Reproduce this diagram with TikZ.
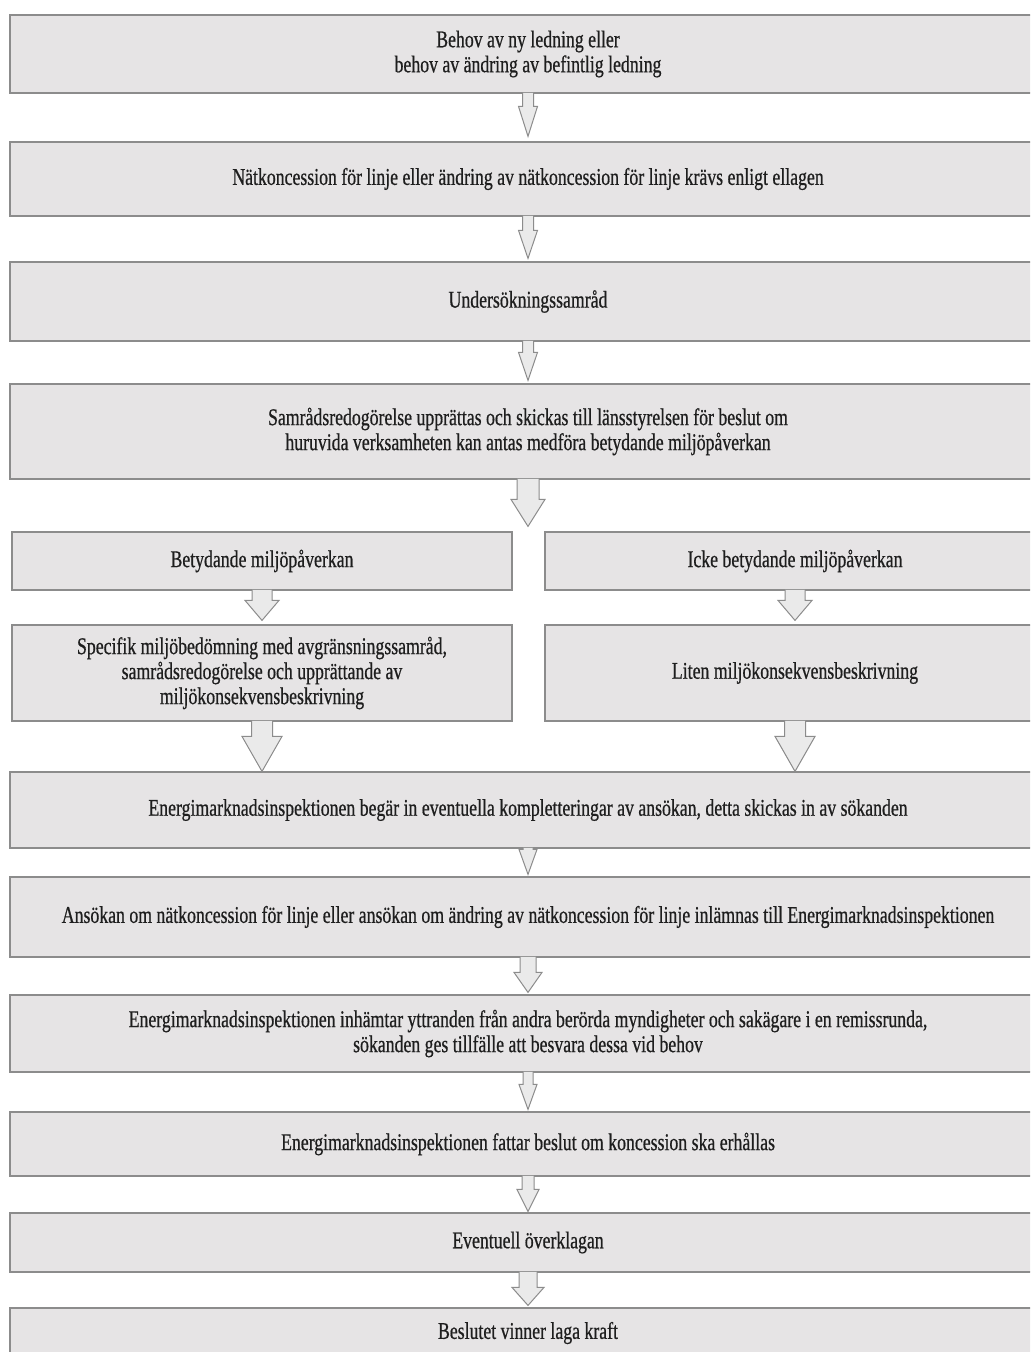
\documentclass[tikz,border=0pt]{standalone}
\usepackage{fontspec}
\setmainfont{Liberation Serif}[FakeStretch=0.74, FakeBold=0.6]
\usepackage{tikz}
\usetikzlibrary{calc}
\definecolor{fc-fill}{HTML}{E6E4E5}
\definecolor{fc-line}{HTML}{8C8C8C}
\definecolor{fc-arrow}{HTML}{EAEAEA}
\definecolor{fc-text}{HTML}{1E1E1E}
\newcommand{\flowfont}{\fontsize{12pt}{12.5pt}\selectfont}
% block arrow from the south side of #2 down to the north side of #3
% #4 half shaft width, #5 half head width, #6 head length, #1 gap above #3
\newcommand{\flowarrow}[6][1pt]{%
  \path[fc-arr] let \p1=(#2.south), \p2=(#3.north) in
    (\x1-#4,\y1+0.4pt) -- (\x1-#4,\y2+#1+#6) -- (\x1-#5,\y2+#1+#6)
    -- (\x1,\y2+#1) -- (\x1+#5,\y2+#1+#6) -- (\x1+#4,\y2+#1+#6)
    -- (\x1+#4,\y1+0.4pt);
}
\tikzset{
  stepbox/.style={draw=fc-line, fill=fc-fill, line width=0.6pt, align=center,
    inner sep=0pt, font=\flowfont, text=fc-text},
  fullbox/.style={stepbox, minimum width=518pt},
  halfbox/.style={stepbox, minimum width=250pt},
  fc-arr/.style={draw=fc-line, fill=fc-arrow, line width=0.5pt, line join=miter},
}
\begin{document}
\begin{tikzpicture}[x=0.5pt, y=-0.5pt]
    \clip (0,0) rectangle (1030,1352);
    \fill[white] (0,0) rectangle (1030,1352);

    % Main column
    \node[fullbox, minimum height=39pt] (need) at (528,54)
      {Behov av ny ledning eller\\behov av ändring av befintlig ledning};
    \node[fullbox, minimum height=37pt] (req) at (528,179)
      {Nätkoncession för linje eller ändring av nätkoncession för linje krävs enligt ellagen};
    \node[fullbox, minimum height=39.5pt] (consult) at (528,301.5)
      {Undersökningssamråd};
    \node[fullbox, minimum height=47.5pt] (report) at (528,431.5)
      {Samrådsredogörelse upprättas och skickas till länsstyrelsen för beslut om\\huruvida verksamheten kan antas medföra betydande miljöpåverkan};

    % Two branches
    \node[halfbox, minimum height=29pt] (sig) at (262,561)
      {Betydande miljöpåverkan};
    \node[halfbox, minimum height=29pt] (nosig) at (795,561)
      {Icke betydande miljöpåverkan};
    \node[halfbox, minimum height=48pt] (sigmkb) at (262,673)
      {Specifik miljöbedömning med avgränsningssamråd,\\samrådsredogörelse och upprättande av\\miljökonsekvensbeskrivning};
    \node[halfbox, minimum height=48pt] (nosigmkb) at (795,673)
      {Liten miljökonsekvensbeskrivning};

    % Application and decision
    \node[fullbox, minimum height=38pt] (compl) at (528,810)
      {Energimarknadsinspektionen begär in eventuella kompletteringar av ansökan, detta skickas in av sökanden};
    \node[fullbox, minimum height=40pt] (apply) at (528,917)
      {Ansökan om nätkoncession för linje eller ansökan om ändring av nätkoncession för linje inlämnas till Energimarknadsinspektionen};
    \node[fullbox, minimum height=38.5pt] (remiss) at (528,1033.5)
      {Energimarknadsinspektionen inhämtar yttranden från andra berörda myndigheter och sakägare i en remissrunda,\\sökanden ges tillfälle att besvara dessa vid behov};
    \node[fullbox, minimum height=32pt] (decide) at (528,1144)
      {Energimarknadsinspektionen fattar beslut om koncession ska erhållas};
    \node[fullbox, minimum height=29.5pt] (appeal) at (528,1242.5)
      {Eventuell överklagan};
    \node[fullbox, minimum height=25pt] (final) at (528,1333)
      {Beslutet vinner laga kraft};

    % Arrows
    \flowarrow[2.5pt]{need}{req}{2.75pt}{4.75pt}{15pt}
    \flowarrow[1.5pt]{req}{consult}{2.75pt}{4.75pt}{14pt}
    \flowarrow[1.5pt]{consult}{report}{2.75pt}{4.75pt}{14pt}
    \flowarrow[2.5pt]{report}{sig}{5.5pt}{8.5pt}{13.5pt}
    \flowarrow[2pt]{sig}{sigmkb}{5pt}{8.5pt}{10pt}
    \flowarrow[2pt]{nosig}{nosigmkb}{5pt}{8.5pt}{10pt}
    \flowarrow[0pt]{sigmkb}{compl}{5.25pt}{10pt}{17.5pt}
    \flowarrow[0pt]{nosigmkb}{compl}{5.25pt}{10pt}{17.5pt}
    \flowarrow[1pt]{compl}{apply}{2.5pt}{4.5pt}{12.5pt}
    \flowarrow[1pt]{apply}{remiss}{4pt}{7pt}{10pt}
    \flowarrow[1pt]{remiss}{decide}{2.5pt}{4.5pt}{12.5pt}
    \flowarrow[0.5pt]{decide}{appeal}{3pt}{5.5pt}{11pt}
    \flowarrow[1pt]{appeal}{final}{4.5pt}{8pt}{9pt}
\end{tikzpicture}
\end{document}
